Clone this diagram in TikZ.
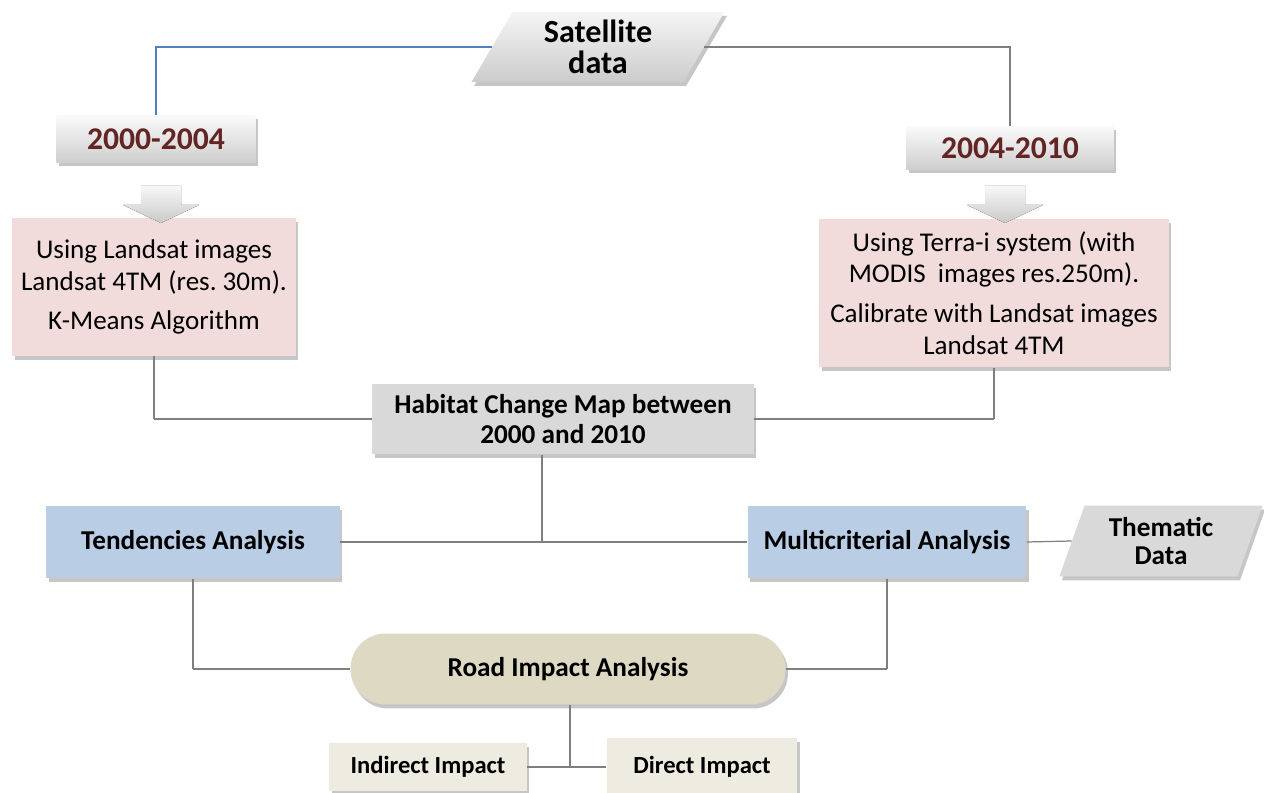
\documentclass[tikz,border=0pt]{standalone}
\usepackage{fontspec}
\setmainfont{Carlito}
\usetikzlibrary{shapes.geometric,shadows}
\definecolor{yearred}{HTML}{632523}
\definecolor{pinkfill}{HTML}{F2DCDB}
\definecolor{habgray}{HTML}{D9D9D9}
\definecolor{bluefill}{HTML}{B9CDE5}
\definecolor{roadfill}{HTML}{DDD9C3}
\definecolor{impfill}{HTML}{EEECE1}
\definecolor{linegray}{HTML}{7F7F7F}
\definecolor{lineblue}{HTML}{4F81BD}
\frenchspacing

\begin{document}
\begin{tikzpicture}[x=0.02cm, y=-0.02cm,
	boxshadow/.style={drop shadow={shadow xshift=0.5mm, shadow yshift=-0.8mm, opacity=0.45}},
	yearbox/.style={rectangle, top color=gray!4, bottom color=gray!38, text=yearred, font=\fontsize{18}{20}\selectfont\bfseries, boxshadow},
	pinkbox/.style={rectangle, fill=pinkfill, align=center, font=\fontsize{15.4}{17.8}\selectfont, boxshadow},
	databox/.style={trapezium, trapezium stretches=true, align=center, inner sep=1pt, boxshadow},
	bluebox/.style={rectangle, fill=bluefill, font=\fontsize{15.5}{17}\selectfont\bfseries, minimum width=5.7cm, minimum height=1.46cm, boxshadow},
	impbox/.style={rectangle, fill=impfill, font=\fontsize{14}{16}\selectfont\bfseries, boxshadow},
	link/.style={draw=linegray, line width=0.7pt}]
	\useasboundingbox (0,0) rectangle (1264,793);

	% sources
	\draw (598,47) node [databox, trapezium left angle=65, trapezium right angle=115, top color=gray!8, bottom color=gray!40, minimum width=5.08cm, minimum height=1.4cm, font=\fontsize{18.3}{17.6}\selectfont\bfseries] (sat) {Satellite\\data};
	\draw (156,139) node [yearbox, minimum width=3.98cm, minimum height=0.94cm] (y1) {2000-2004};
	\draw (1010,148) node [yearbox, minimum width=4.16cm, minimum height=0.86cm] (y2) {2004-2010};

	% processing
	\draw (154,287) node [pinkbox, minimum width=5.68cm, minimum height=2.76cm] (p1) {Using Landsat images\\Landsat 4TM (res. 30m).\\[4.5pt]K-Means Algorithm};
	\draw (994,293) node [pinkbox, minimum width=7cm, minimum height=2.98cm] (p2) {Using Terra-i system (with\\MODIS\ \ images res.250m).\\[5pt]Calibrate with Landsat images\\Landsat 4TM};
	\foreach \cx in {161,1005}
		\fill[top color=gray!6, bottom color=gray!42] (\cx-20,186) -- (\cx+20,186) -- (\cx+20,205) -- (\cx+38,205) -- (\cx,223) -- (\cx-38,205) -- (\cx-20,205) -- cycle;
	\draw (563,419) node [rectangle, fill=habgray, align=center, minimum width=7.64cm, minimum height=1.42cm, font=\fontsize{15.5}{17}\selectfont\bfseries, boxshadow] (hab) {Habitat Change Map between\\2000 and 2010};

	% analysis
	\draw (193,542) node [bluebox, minimum width=5.88cm] (ta) {Tendencies Analysis};
	\draw (887,542) node [bluebox, minimum width=5.58cm] (ma) {Multicriterial Analysis};
	\draw (1161,541) node [databox, trapezium left angle=71, trapezium right angle=109, fill=habgray, minimum width=4.08cm, minimum height=1.42cm, font=\fontsize{15.5}{16.4}\selectfont\bfseries] (td) {Thematic\\Data};
	\draw (568,669) node [rectangle, rounded corners=0.7cm, fill=roadfill, minimum width=8.7cm, minimum height=1.42cm, font=\fontsize{15.5}{17}\selectfont\bfseries, boxshadow] (road) {Road Impact Analysis};
	\draw (428,767) node [impbox, minimum width=3.96cm, minimum height=0.96cm] (ii) {Indirect Impact};
	\draw (702,767) node [impbox, minimum width=3.82cm, minimum height=1.16cm] (di) {Direct Impact};

	% junctions
	\coordinate (hj) at (542,542);
	\coordinate (rj) at (570,767);

	\draw[draw=lineblue, line width=0.7pt] (sat.west) -| (y1.north);
	\draw[link] (sat.east) -| (y2.north);
	\path[link] (p1.south) edge (p1.south |- hab.west) (p1.south |- hab.west) edge (hab.west)
		(p2.south) edge (p2.south |- hab.east) (p2.south |- hab.east) edge (hab.east)
		(hab.south -| hj) edge (hj)
		(ta.east) edge (ma.west)
		(ma.east) edge (td.west)
		(ta.south) edge (ta.south |- road.west) (ta.south |- road.west) edge (road.west)
		(ma.south) edge (ma.south |- road.east) (ma.south |- road.east) edge (road.east)
		(road.south -| rj) edge (rj)
		(ii.east) edge (di.west);
\end{tikzpicture}
\end{document}
